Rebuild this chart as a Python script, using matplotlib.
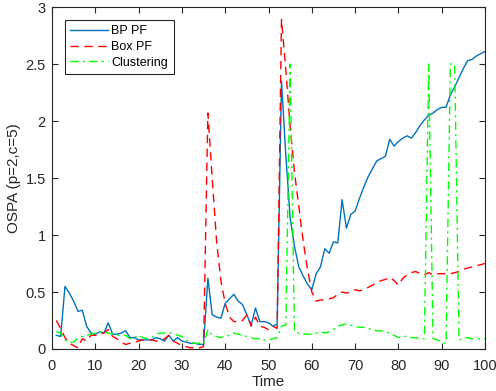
import numpy as np
import matplotlib
matplotlib.use("Agg")
from matplotlib import pyplot as plt
from matplotlib.ticker import FormatStrFormatter

plt.rcParams['font.family'] = ['Liberation Sans', 'DejaVu Sans']

time = np.arange(1, 101)

bp_pf = [0.12, 0.11, 0.55, 0.49, 0.42, 0.33, 0.34, 0.20, 0.14, 0.13,
         0.15, 0.14, 0.23, 0.13, 0.13, 0.14, 0.16, 0.10, 0.10, 0.08,
         0.08, 0.08, 0.08, 0.10, 0.09, 0.07, 0.12, 0.07, 0.10, 0.07,
         0.06, 0.05, 0.05, 0.04, 0.04, 0.62, 0.30, 0.28, 0.27, 0.40,
         0.44, 0.48, 0.42, 0.39, 0.30, 0.21, 0.36, 0.24, 0.24, 0.23,
         0.20, 0.22, 2.35, 1.70, 1.15, 0.90, 0.72, 0.64, 0.57, 0.52,
         0.66, 0.72, 0.88, 0.84, 0.94, 0.93, 1.31, 1.06, 1.18, 1.21,
         1.32, 1.42, 1.51, 1.58, 1.65, 1.67, 1.69, 1.84, 1.78, 1.82,
         1.85, 1.87, 1.85, 1.90, 1.96, 2.01, 2.05, 2.07, 2.10, 2.12,
         2.12, 2.23, 2.30, 2.38, 2.46, 2.53, 2.54, 2.57, 2.59, 2.61]

box_pf = [0.25, 0.18, 0.10, 0.05, 0.03, 0.01, 0.09, 0.07, 0.12, 0.12,
          0.13, 0.14, 0.17, 0.11, 0.09, 0.06, 0.04, 0.05, 0.06, 0.07,
          0.08, 0.08, 0.08, 0.07, 0.07, 0.09, 0.12, 0.07, 0.05, 0.03,
          0.02, 0.01, 0.01, 0.01, 0.02, 2.07, 1.50, 0.95, 0.60, 0.40,
          0.28, 0.24, 0.24, 0.25, 0.30, 0.20, 0.28, 0.20, 0.19, 0.17,
          0.20, 0.18, 2.89, 2.45, 1.95, 1.55, 1.25, 0.95, 0.70, 0.50,
          0.42, 0.43, 0.43, 0.44, 0.45, 0.48, 0.50, 0.49, 0.50, 0.52,
          0.51, 0.52, 0.54, 0.56, 0.58, 0.60, 0.61, 0.63, 0.60, 0.56,
          0.62, 0.65, 0.67, 0.68, 0.66, 0.65, 0.67, 0.65, 0.66, 0.66,
          0.66, 0.66, 0.67, 0.68, 0.70, 0.71, 0.72, 0.73, 0.74, 0.75]

clustering = [0.15, 0.14, 0.08, 0.06, 0.06, 0.10, 0.11, 0.12, 0.13, 0.14,
              0.15, 0.15, 0.14, 0.13, 0.12, 0.12, 0.12, 0.09, 0.10, 0.12,
              0.10, 0.09, 0.10, 0.13, 0.14, 0.14, 0.14, 0.14, 0.12, 0.11,
              0.08, 0.06, 0.05, 0.05, 0.04, 0.17, 0.12, 0.11, 0.10, 0.11,
              0.12, 0.14, 0.13, 0.12, 0.11, 0.10, 0.09, 0.09, 0.08, 0.08,
              0.09, 0.10, 0.20, 0.21, 2.50, 0.15, 0.14, 0.13, 0.13, 0.13,
              0.14, 0.15, 0.14, 0.15, 0.17, 0.20, 0.21, 0.22, 0.21, 0.20,
              0.19, 0.19, 0.18, 0.17, 0.16, 0.16, 0.15, 0.14, 0.12, 0.10,
              0.11, 0.11, 0.10, 0.10, 0.09, 0.09, 2.50, 0.09, 0.08, 0.06,
              0.05, 2.50, 2.50, 0.08, 0.09, 0.10, 0.09, 0.09, 0.09, 0.09]

fig = plt.figure(figsize=(4.96, 3.91), dpi=100)
ax = fig.add_axes([52 / 496, 42 / 391, 433 / 496, 342 / 391])

ax.plot(time, bp_pf, color='#0072BD', linestyle='-', linewidth=1, label='BP PF')
ax.plot(time, box_pf, color='r', linestyle='--', linewidth=1, label='Box PF',
        dashes=(6, 4))
ax.plot(time, clustering, color='#00FF00', linestyle='-.', linewidth=1,
        label='Clustering', dashes=(6, 3, 1.5, 3))

ax.set_xlim(0, 100)
ax.set_ylim(0, 3)
ax.set_xticks(np.arange(0, 101, 10))
ax.set_yticks(np.arange(0, 3.01, 0.5))
ax.yaxis.set_major_formatter(FormatStrFormatter('%g'))

dark = '#262626'
for side in ax.spines.values():
    side.set_color(dark)
    side.set_linewidth(0.8)
ax.tick_params(direction='in', top=True, right=True, length=4, width=0.8,
               colors=dark, labelsize=10.5)
ax.tick_params(axis='x', pad=7.5)
ax.tick_params(axis='y', pad=4.5)

ax.set_xlabel('Time', fontsize=11, color=dark, labelpad=1)
ax.set_ylabel('OSPA (p=2,c=5)', fontsize=11, color=dark, labelpad=3)

leg = ax.legend(loc='upper left', fontsize=9, fancybox=False,
                edgecolor=dark, framealpha=1, handlelength=3.0,
                borderaxespad=1.0, labelspacing=0.3, handletextpad=0.3,
                borderpad=0.45)
leg.get_frame().set_linewidth(0.8)

fig.savefig('out.png', dpi=100)
